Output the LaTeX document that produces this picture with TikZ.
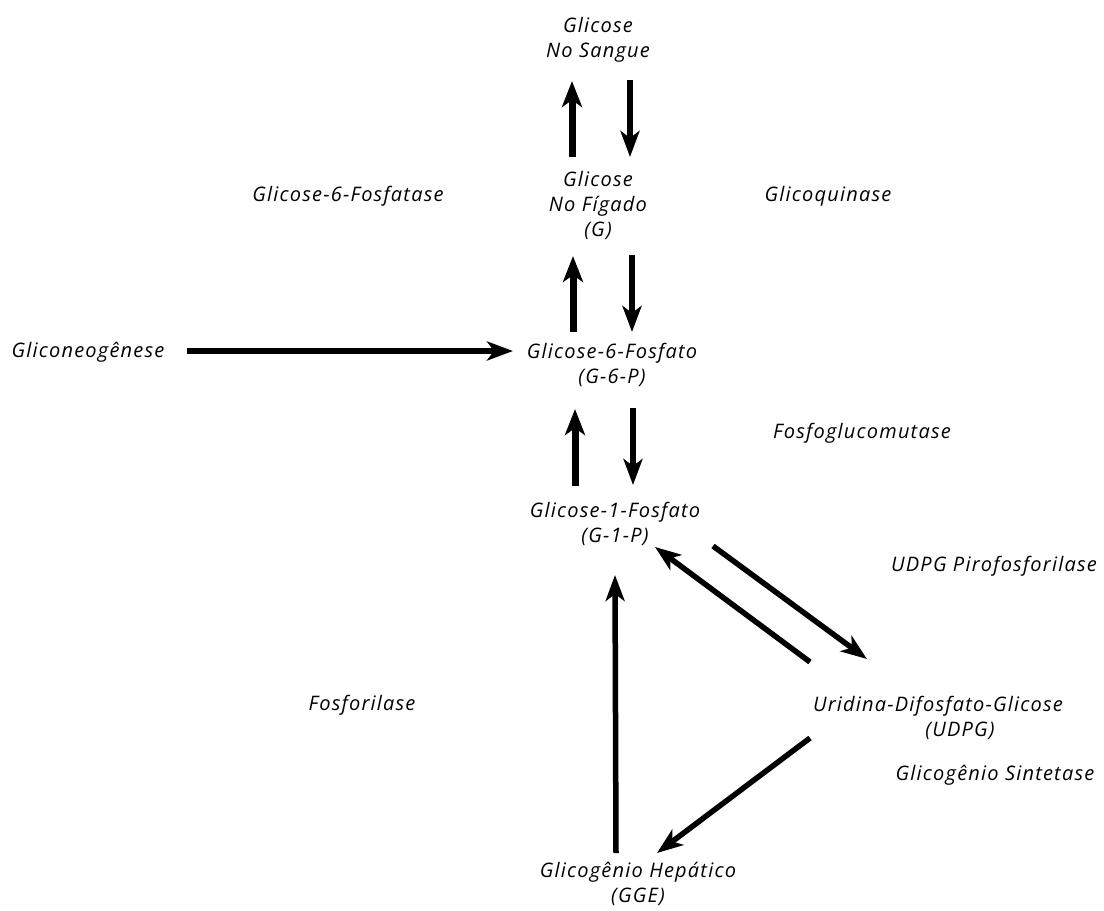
\documentclass[tikz,border=0pt]{standalone}
\usepackage{fontspec}
\setmainfont{Open Sans}[LetterSpace=6]
\usetikzlibrary{arrows.meta,calc}
\begin{document}
\begin{tikzpicture}[x=1pt,y=-1pt,
  txt/.style={inner sep=0pt,align=center,font=\fontsize{20}{25}\selectfont\itshape},
  arr/.style={line width=5.5pt,-{Stealth[length=26pt,width=19pt,inset=7pt]}},
  arrup/.style={line width=7pt,-{Stealth[length=26pt,width=20pt,inset=7pt]}}]
\useasboundingbox (0,0) rectangle (1104,911);
\fill[white] (0,0) rectangle (1104,911);

% metabolites
\node[txt] (sangue) at (598,40)  {Glicose\\No Sangue};
\node[txt] (figado) at (598,205) {Glicose\\No Fígado\\(G)};
\node[txt] (g6p)    at (612,365) {Glicose-6-Fosfato\\(G-6-P)};
\node[txt] (g1p)    at (615,524) {Glicose-1-Fosfato\\(G-1-P)};
\node[txt] (udpg)   at (938,718) {Uridina-Difosfato-Glicose\\\hspace*{44pt}(UDPG)};
\node[txt] (gge)    at (638,884) {Glicogênio Hepático\\(GGE)};
\node[txt] (gneo)   at (88,352)  {Gliconeogênese};

% enzymes
\node[txt] (g6pase) at (348,196) {Glicose-6-Fosfatase};
\node[txt] (gk)     at (828,196) {Glicoquinase};
\node[txt] (pgm)    at (862,433) {Fosfoglucomutase};
\node[txt] (udpgpp) at (994,566) {UDPG Pirofosforilase};
\node[txt] (phos)   at (362,705) {Fosforilase};
\node[txt] (gs)     at (995,775) {Glicogênio Sintetase};

% reactions
\draw[arrup] ($(figado.center)+(-26,-48)$) -- ($(sangue.center)+(-26,41)$);
\draw[arr]   ($(sangue.center)+(32,40)$)   -- ($(figado.center)+(32,-48)$);
\draw[arrup] ($(g6p.center)+(-39,-33)$)    -- ($(figado.center)+(-25,51)$);
\draw[arr]   ($(figado.center)+(34,50)$)   -- ($(g6p.center)+(20,-33)$);
\draw[arr]   ($(gneo.center)+(99,-1)$)     -- ($(g6p.center)+(-99,-14)$);
\draw[arrup] ($(g1p.center)+(-40,-38)$)    -- ($(g6p.center)+(-37,44)$);
\draw[arr]   ($(g6p.center)+(21,43)$)      -- ($(g1p.center)+(18,-39)$);
\draw[arr]   ($(g1p.center)+(98,22)$)      -- ($(udpg.center)+(-71,-59)$);
\draw[arr]   ($(udpg.center)+(-128,-56)$)  -- ($(g1p.center)+(40,23)$);
\draw[arr]   ($(udpg.center)+(-128,20)$)   -- ($(gge.center)+(19,-31)$);
\draw[arr]   ($(gge.center)+(-22,-31)$)    -- ($(g1p.center)+(0,51)$);
\end{tikzpicture}
\end{document}
